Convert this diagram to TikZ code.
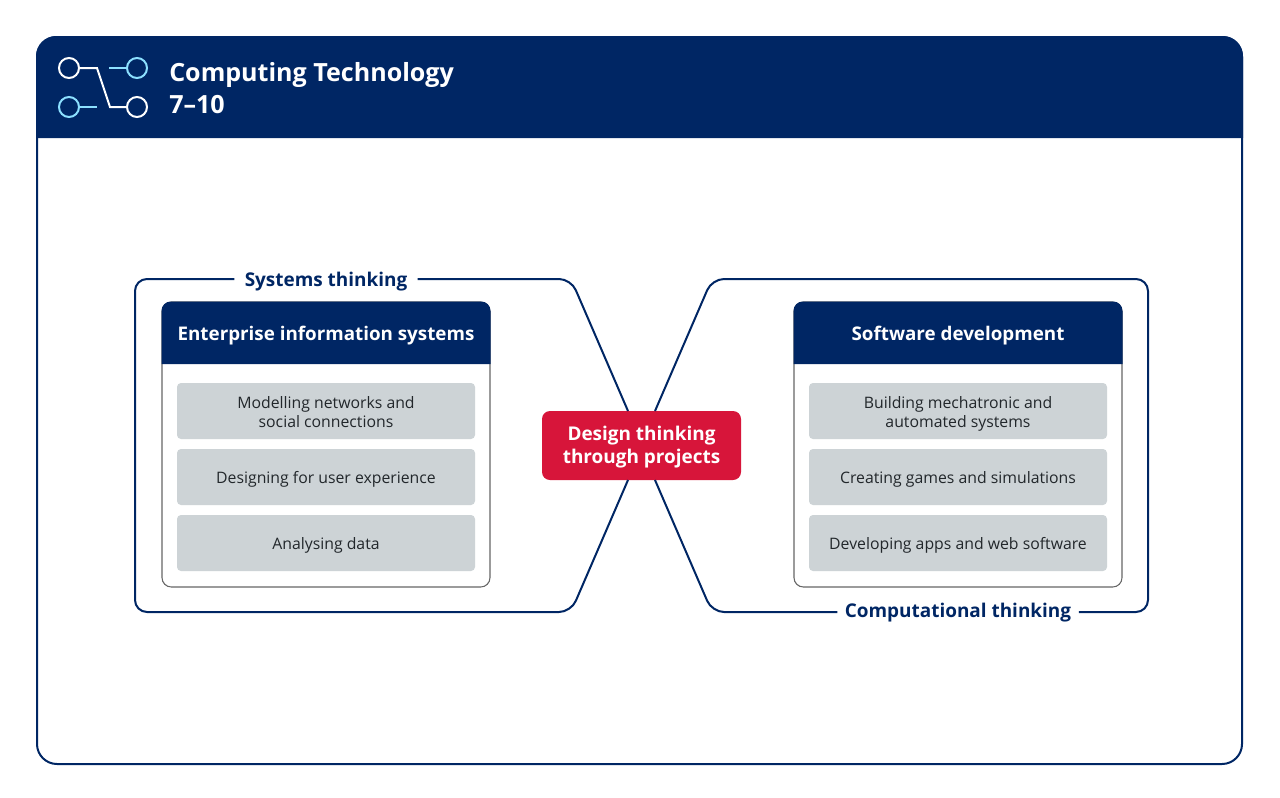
\documentclass[tikz,border=0pt]{standalone}
\usepackage{fontspec}
\setmainfont{Open Sans}
\definecolor{navy}{HTML}{002664}
\definecolor{crimson}{HTML}{D7153A}
\definecolor{itemgrey}{HTML}{CDD3D6}
\definecolor{skyblue}{HTML}{8CE0FF}
\definecolor{inktext}{HTML}{22272B}
\newcommand{\itemrule}{\rule{0pt}{14.5pt}}
\tikzset{
	itembox/.style={fill=itemgrey, rounded corners=3, minimum width=223.5pt, minimum height=42pt, align=center, text=inktext, font=\fontsize{11.85}{14.2}\selectfont, inner sep=0pt, execute at begin node=\strut\rule{0pt}{14pt}},
	headtext/.style={text=white, font=\fontsize{14.1}{17}\selectfont\bfseries, inner sep=0pt},
	threadlabel/.style={text=navy, font=\fontsize{14.2}{17}\selectfont\bfseries, inner xsep=7.5pt, inner ysep=0pt},
	thread/.style={navy, line width=1.5pt, rounded corners=9},
	dot/.style={circle, draw, line width=1.5pt, minimum size=15pt, inner sep=0pt}
}
\begin{document}
\begin{tikzpicture}[x=0.75pt, y=-0.75pt]
			\useasboundingbox (0,0) rectangle (1280,797);
			% outer panel
			\draw[navy, line width=1.5pt, rounded corners=15] (37,37) rectangle (1242,764);
			\fill[navy] (36,138) [rounded corners=15] -- (36,36) -- (1243,36) [sharp corners] -- (1243,138) -- cycle;
			% icon
			\node[dot, draw=white] (dota) at (69,68) {};
			\node[dot, draw=skyblue] (dotb) at (137,68) {};
			\node[dot, draw=skyblue] (dotc) at (69,107) {};
			\node[dot, draw=white] (dotd) at (137,107) {};
			\draw[white, line width=1.5pt] (dota) -- (97,68) -- (110,107) -- (dotd);
			\draw[skyblue, line width=1.5pt] (109,68) -- (dotb);
			\draw[skyblue, line width=1.5pt] (dotc) -- (97,107);
			\node[anchor=base west, text=white, inner sep=0pt, align=left, font=\fontsize{18.8}{24}\selectfont\bfseries] (title) at (169,81) {Computing Technology};
			\node[anchor=base west, text=white, inner sep=0pt, font=\fontsize{18.8}{24}\selectfont\bfseries] (years) at (169,113) {7–10};
			% left box
			\draw[black!60, line width=0.8pt, fill=white, rounded corners=7] (162,302) rectangle (490,587);
			\fill[navy] (161.5,364) [rounded corners=7] -- (161.5,301.5) -- (490.5,301.5) [sharp corners] -- (490.5,364) -- cycle;
			\node[headtext] (enterprise) at (326,336) {Enterprise information systems};
			\node[itembox] (modelling) at (326,411) {\itemrule Modelling networks and\\\strut social connections};
			\node[itembox] (designing) at (326,477) {Designing for user experience};
			\node[itembox] (analysing) at (326,543) {Analysing data};
			% right box
			\draw[black!60, line width=0.8pt, fill=white, rounded corners=7] (794,302) rectangle (1122,587);
			\fill[navy] (793.5,364) [rounded corners=7] -- (793.5,301.5) -- (1122.5,301.5) [sharp corners] -- (1122.5,364) -- cycle;
			\node[headtext] (software) at (958,336) {Software development};
			\node[itembox] (building) at (958,411) {\itemrule Building mechatronic and\\\strut automated systems};
			\node[itembox] (creating) at (958,477) {Creating games and simulations};
			\node[itembox] (developing) at (958,543) {Developing apps and web software};
			% centre and thread labels
			\node[fill=crimson, rounded corners=6, minimum width=149.25pt, minimum height=51.75pt, align=center, text=white, inner sep=0pt, font=\fontsize{14.2}{17.3}\selectfont\bfseries] (design) at (641.5,445.5) {\rule{0pt}{15.5pt}Design thinking\\\strut through projects};
			\node[threadlabel] (systems) at (326,282) {Systems thinking};
			\node[threadlabel, inner xsep=5.5pt] (computational) at (958,613) {Computational thinking};
			\coordinate (lefttop) at (628,411);
			\coordinate (leftbottom) at (628,480);
			\coordinate (righttop) at (655,411);
			\coordinate (rightbottom) at (655,480);
			\draw[thread] (systems.east |- 0,279) -- (571,279) -- (lefttop);
			\draw[thread] (systems.west |- 0,279) -- (135,279) -- (135,612) -- (571,612) -- (leftbottom);
			\draw[thread] (righttop) -- (712,279) -- (1148,279) -- (1148,612) -- (computational.east |- 0,612);
			\draw[thread] (rightbottom) -- (712,612) -- (computational.west |- 0,612);
			\end{tikzpicture}
\end{document}
